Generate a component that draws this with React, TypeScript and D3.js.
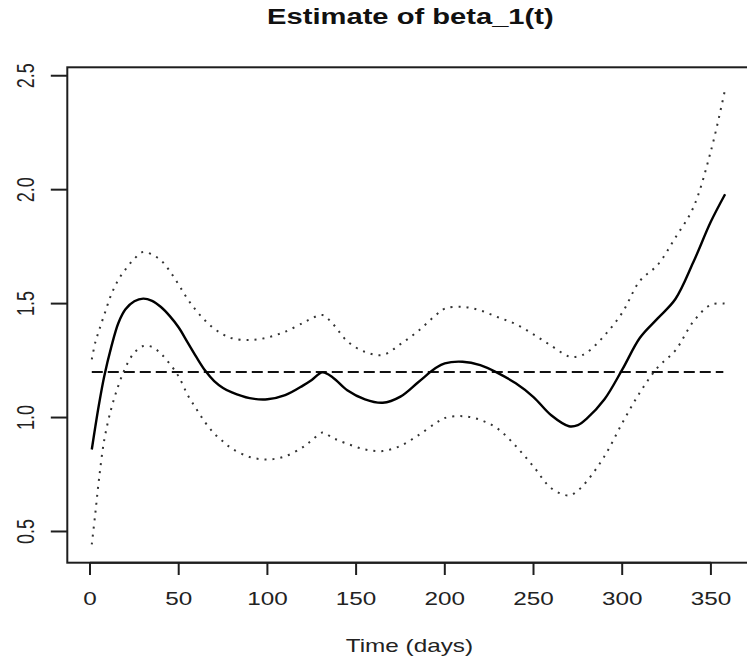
import React from "react";
import * as d3 from "d3";

const days = [1, 3, 5, 8, 12, 16, 20, 25, 30, 35, 40, 45, 50, 55, 60, 65, 70, 75, 80, 90, 100, 110, 120, 125, 131, 137, 145, 155, 165, 175, 185, 195, 200, 210, 220, 230, 240, 250, 260, 270, 275, 280, 290, 300, 310, 320, 330, 340, 350, 358];

const estimate = [0.86, 0.96, 1.055, 1.18, 1.31, 1.415, 1.475, 1.51, 1.522, 1.512, 1.485, 1.445, 1.395, 1.33, 1.265, 1.205, 1.16, 1.13, 1.11, 1.085, 1.08, 1.098, 1.14, 1.165, 1.198, 1.175, 1.12, 1.08, 1.065, 1.092, 1.155, 1.218, 1.238, 1.245, 1.23, 1.195, 1.15, 1.09, 1.01, 0.962, 0.967, 0.995, 1.08, 1.21, 1.35, 1.435, 1.52, 1.68, 1.86, 1.98];

const upperBand = [1.255, 1.33, 1.38, 1.45, 1.54, 1.605, 1.65, 1.697, 1.727, 1.715, 1.69, 1.642, 1.583, 1.52, 1.468, 1.425, 1.39, 1.365, 1.348, 1.34, 1.351, 1.377, 1.415, 1.435, 1.45, 1.41, 1.335, 1.288, 1.275, 1.322, 1.38, 1.45, 1.478, 1.486, 1.47, 1.44, 1.41, 1.365, 1.315, 1.268, 1.268, 1.285, 1.36, 1.46, 1.6, 1.67, 1.79, 1.92, 2.17, 2.44];

const lowerBand = [0.443, 0.58, 0.725, 0.9, 1.04, 1.14, 1.22, 1.285, 1.314, 1.31, 1.28, 1.235, 1.18, 1.1, 1.037, 0.978, 0.93, 0.895, 0.864, 0.827, 0.816, 0.83, 0.87, 0.9, 0.934, 0.91, 0.885, 0.86, 0.853, 0.876, 0.922, 0.976, 0.998, 1.006, 0.99, 0.95, 0.875, 0.785, 0.69, 0.658, 0.68, 0.72, 0.83, 0.975, 1.11, 1.22, 1.295, 1.42, 1.495, 1.5];

const referenceLevel = 1.2;
const referenceDays = [1, 357];

const xTicks = [0, 50, 100, 150, 200, 250, 300, 350];
const yTicks = [0.5, 1.0, 1.5, 2.0, 2.5];

const title = "Estimate of beta_1(t)";
const xLabel = "Time (days)";

const W = 747;
const H = 662;
const box = { left: 67.3, top: 67.3, bottom: 562.7 };
const SX = 1.35; // horizontal stretch of the original raster

export default function App() {
  const x = d3.scaleLinear().domain([-12.8, 374]).range([box.left, box.left + 386.8 * 1.774]);
  const y = d3.scaleLinear().domain([0.363, 2.537]).range([box.bottom, box.top]);

  const line = d3
    .line<number>()
    .x((_, i) => x(days[i]))
    .y((d) => y(d))
    .curve(d3.curveCatmullRom.alpha(0.5));

  const boxRight = x(374);
  const ink = "#1e1e1e";
  const font = "'Liberation Sans', Arial, sans-serif";

  return (
    <svg
      width={W}
      height={H}
      style={{ position: "absolute", left: 0, top: 0, background: "#fff" }}
    >
      <rect x={0} y={0} width={W} height={H} fill="#fff" />
      {/* title */}
      <text
        transform={`translate(${(box.left + boxRight) / 2},23.5) scale(${SX},1)`}
        textAnchor="middle"
        fontFamily={font}
        fontWeight="bold"
        fontSize={21.6}
        fill="#111"
      >
        {title}
      </text>

      {/* plot box */}
      <rect
        x={box.left}
        y={box.top}
        width={boxRight - box.left}
        height={box.bottom - box.top}
        fill="none"
        stroke={ink}
        strokeWidth={2}
      />

      {/* x axis */}
      <line x1={x(xTicks[0])} x2={x(xTicks[xTicks.length - 1])} y1={box.bottom} y2={box.bottom} stroke={ink} strokeWidth={2} />
      {xTicks.map((t) => (
        <g key={`xt${t}`}>
          <line x1={x(t)} x2={x(t)} y1={box.bottom} y2={box.bottom + 12.3} stroke={ink} strokeWidth={2} />
          <text
            transform={`translate(${x(t)},604.5) scale(${SX},1)`}
            textAnchor="middle"
            fontFamily={font}
            fontSize={18}
            fill="#222"
          >
            {t}
          </text>
        </g>
      ))}
      <text
        transform={`translate(${(box.left + boxRight) / 2 - 1},652) scale(${SX},1)`}
        textAnchor="middle"
        fontFamily={font}
        fontSize={18}
        fill="#222"
      >
        {xLabel}
      </text>

      {/* y axis */}
      {yTicks.map((v) => (
        <g key={`yt${v}`}>
          <line x1={box.left - 16.5} x2={box.left} y1={y(v)} y2={y(v)} stroke={ink} strokeWidth={2} />
          <text
            transform={`translate(25,${y(v)}) scale(${SX},1) rotate(-90)`}
            textAnchor="middle"
            dy="0.36em"
            fontFamily={font}
            fontSize={18}
            fill="#222"
          >
            {v.toFixed(1)}
          </text>
        </g>
      ))}

      {/* reference level */}
      <line
        x1={x(referenceDays[0])}
        x2={x(referenceDays[1])}
        y1={y(referenceLevel)}
        y2={y(referenceLevel)}
        stroke="#111"
        strokeWidth={2}
        strokeDasharray="11,5"
      />

      {/* confidence bands */}
      <path d={line(upperBand) || ""} fill="none" stroke="#333" strokeWidth={2} strokeDasharray="2,6" />
      <path d={line(lowerBand) || ""} fill="none" stroke="#333" strokeWidth={2} strokeDasharray="2,6" />

      {/* estimate */}
      <path d={line(estimate) || ""} fill="none" stroke="#000" strokeWidth={2.4} strokeLinejoin="round" />
    </svg>
  );
}
